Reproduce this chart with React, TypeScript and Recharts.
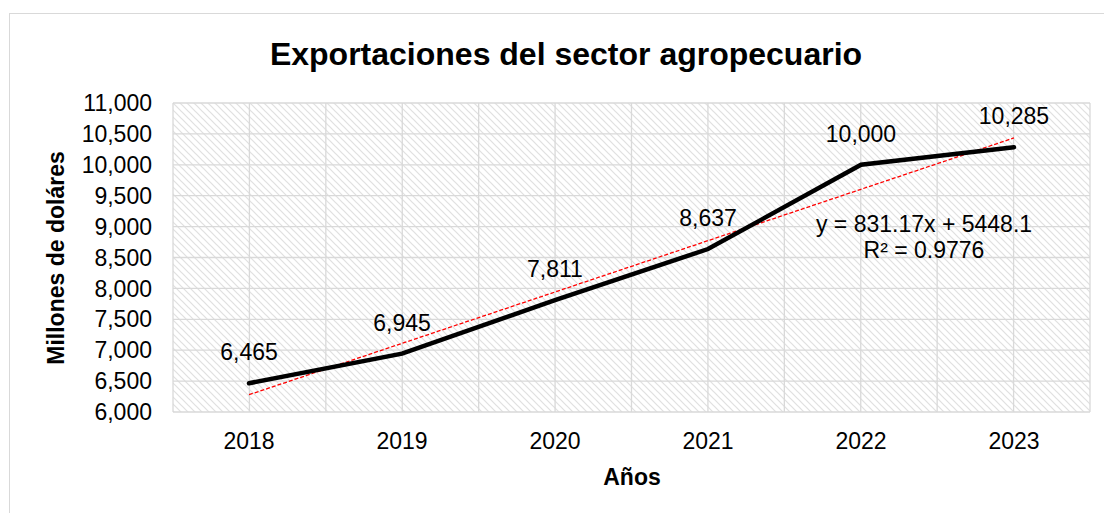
import { ComposedChart, Line, XAxis, YAxis, CartesianGrid, LabelList } from 'recharts'

const years = ['2018', '2019', '2020', '2021', '2022', '2023']
const exportsValues = [6465, 6945, 7811, 8637, 10000, 10285]
// linear trend shown in the chart (y = 831.17x + 5448.1)
const trendValues = [6279.3, 7110.4, 7941.6, 8772.8, 9603.9, 10435.1]
const yTicks = [6000, 6500, 7000, 7500, 8000, 8500, 9000, 9500, 10000, 10500, 11000]

const data = years.map((year, i) => ({
  year,
  exports: exportsValues[i],
  trend: trendValues[i],
}))

const FONT = '"Liberation Sans", Arial, sans-serif'

const fmt = (v: number) => v.toLocaleString('en-US')

const renderLabel = (props: any) => {
  const { x, y, value } = props
  return (
    <text
      x={x}
      y={y - 31}
      textAnchor="middle"
      dominantBaseline="central"
      fontSize={23}
      fontFamily={FONT}
      fill="#000"
    >
      {fmt(value)}
    </text>
  )
}

export default function App() {
  return (
    <div style={{ position: 'absolute', left: 0, top: 0, width: 1104, height: 513, overflow: 'hidden', background: '#fff' }}>
      <div
        style={{
          position: 'absolute',
          left: 9,
          top: 13,
          width: 1200,
          height: 600,
          border: '1px solid #d9d9d9',
        }}
      />
      <div style={{ position: 'absolute', left: 0, top: 0 }}>
        <ComposedChart
          width={1104}
          height={513}
          data={data}
          margin={{ top: 103, right: 14, bottom: 61, left: 93 }}
        >
          <defs>
            <pattern id="hatch" patternUnits="userSpaceOnUse" width="7" height="7">
              <rect width="7" height="7" fill="#fff" />
              <path d="M-2,-2 L9,9 M-2,5 L2,9 M5,-2 L9,2" stroke="#e0e0e0" strokeWidth="1.2" />
            </pattern>
          </defs>
          <CartesianGrid
            stroke="#d9d9d9"
            strokeWidth={1.3}
            fill="url(#hatch)"
            fillOpacity={1}
            verticalCoordinatesGenerator={({ offset }: any) =>
              Array.from({ length: 13 }, (_, i) => offset.left + (i * offset.width) / 12)
            }
          />
          <XAxis
            dataKey="year"
            scale="point"
            padding={{ left: 76, right: 76 }}
            height={40}
            axisLine={false}
            tickLine={false}
            tickSize={0}
            tickMargin={21}
            tick={{ fontSize: 23, fontFamily: FONT, fill: '#000' }}
          />
          <YAxis
            width={80}
            domain={[6000, 11000]}
            ticks={yTicks}
            interval={0}
            axisLine={false}
            tickLine={false}
            tickSize={0}
            tickMargin={21}
            tickFormatter={fmt}
            tick={{ fontSize: 23, fontFamily: FONT, fill: '#000' }}
          />
          <Line
            dataKey="trend"
            type="linear"
            stroke="#ff0000"
            strokeWidth={1.3}
            strokeDasharray="4 2"
            dot={false}
            activeDot={false}
            isAnimationActive={false}
          />
          <Line
            dataKey="exports"
            type="linear"
            stroke="#000"
            strokeWidth={4.5}
            strokeLinecap="round"
            dot={false}
            activeDot={false}
            isAnimationActive={false}
          >
            <LabelList dataKey="exports" content={renderLabel} />
          </Line>
          <text x={566} y={65} textAnchor="middle" fontSize={32} fontWeight="bold" fontFamily={FONT} fill="#000">
            Exportaciones del sector agropecuario
          </text>
          <text
            x={56}
            y={258}
            textAnchor="middle"
            dominantBaseline="central"
            transform="rotate(-90 56 258)"
            fontSize={23}
            fontWeight="bold"
            fontFamily={FONT}
            fill="#000"
          >
            Millones de doláres
          </text>
          <text x={632} y={485} textAnchor="middle" fontSize={23} fontWeight="bold" fontFamily={FONT} fill="#000">
            Años
          </text>
          <text x={924} y={232} textAnchor="middle" fontSize={23} fontFamily={FONT} fill="#000">
            y = 831.17x + 5448.1
          </text>
          <text x={924} y={258} textAnchor="middle" fontSize={23} fontFamily={FONT} fill="#000">
            R² = 0.9776
          </text>
        </ComposedChart>
      </div>
    </div>
  )
}
